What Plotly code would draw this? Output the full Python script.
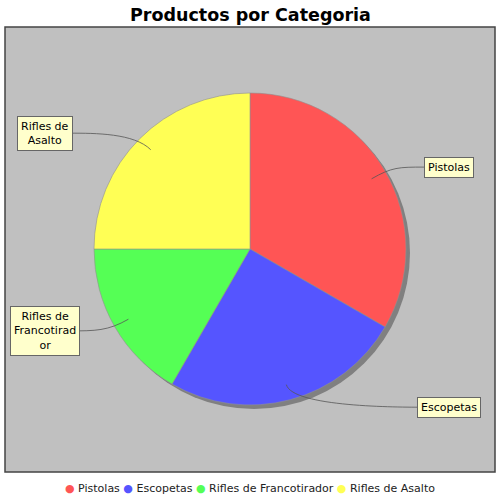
import math
import plotly.graph_objects as go

# ---- data ----
categories = ["Pistolas", "Escopetas", "Rifles de Francotirador", "Rifles de Asalto"]
values = [4, 3, 2, 3]
label_text = ["Pistolas", "Escopetas", "Rifles de<br>Francotirad<br>or", "Rifles de<br>Asalto"]
colors = ["#FF5555", "#5555FF", "#55FF55", "#FFFF55"]
title_text = "Productos por Categoria"

W = H = 500
def X(px): return px / W
def Y(py): return 1 - py / H

# pie geometry (pixels)
cx, cy, R = 250, 249, 156
shadow_off = 4

fig = go.Figure()
# shadow
fig.add_trace(go.Pie(
    values=[1], marker=dict(colors=["#808080"], line=dict(width=0)),
    domain=dict(x=[X(cx - R + shadow_off), X(cx + R + shadow_off)],
                y=[Y(cy + R + shadow_off), Y(cy - R + shadow_off)]),
    textinfo="none", hoverinfo="skip", showlegend=False, sort=False))
# main pie
fig.add_trace(go.Pie(
    labels=categories, values=values, sort=False, direction="clockwise", rotation=0,
    marker=dict(colors=colors, line=dict(color="#909090", width=0.6)),
    domain=dict(x=[X(cx - R), X(cx + R)], y=[Y(cy + R), Y(cy - R)]),
    textinfo="none", hoverinfo="label+value", showlegend=False))

shapes = [dict(type="rect", xref="paper", yref="paper",
               x0=X(5), x1=X(495), y0=Y(472), y1=Y(27),
               fillcolor="#C0C0C0", line=dict(color="#444444", width=1.5), layer="below")]
annotations = []

total = sum(values)
cum = 0
for cat, v, txt in zip(categories, values, label_text):
    mid_cw = (cum + v / 2) / total * 360  # clockwise from 12 o'clock
    cum += v
    ang = math.radians(90 - mid_cw)
    dx, dy = math.cos(ang), -math.sin(ang)
    ax, ay = cx + 0.9 * R * dx, cy + 0.9 * R * dy
    c1x, c1y = cx + 1.05 * R * dx, cy + 1.05 * R * dy
    side = 1 if dx >= 0 else -1
    ly = cy + 1.05 * R * dy
    lx = 449 if side > 0 else 45
    edge = lx - side * 25
    c2x = edge - side * 25
    path = (f"M {X(ax)},{Y(ay)} C {X(c1x)},{Y(c1y)} {X(c2x)},{Y(ly)} "
            f"{X(edge)},{Y(ly)} L {X(lx)},{Y(ly)}")
    shapes.append(dict(type="path", xref="paper", yref="paper", path=path,
                       line=dict(color="#555555", width=0.8), layer="above"))
    annotations.append(dict(x=X(lx), y=Y(ly), xref="paper", yref="paper", text=txt,
                            showarrow=False, xanchor="center", yanchor="middle",
                            borderpad=3, borderwidth=1, align="center",
                            font=dict(family="DejaVu Sans", size=11, color="#000000"),
                            bgcolor="#FFFFCC", bordercolor="#666666"))

# title
annotations.append(dict(x=0.5, y=Y(15), xref="paper", yref="paper", text=f"<b>{title_text}</b>",
                        showarrow=False, xanchor="center", yanchor="middle",
                        font=dict(family="DejaVu Sans", size=17.5, color="#000000")))
# legend
legend_html = " ".join(f"<span style='color:{c}'>●</span> {n}" for n, c in zip(categories, colors))
annotations.append(dict(x=0.5, y=Y(488), xref="paper", yref="paper", text=legend_html,
                        showarrow=False, xanchor="center", yanchor="middle",
                        font=dict(family="DejaVu Sans", size=11, color="#222222")))

fig.update_layout(width=W, height=H, margin=dict(l=0, r=0, t=0, b=0),
                  paper_bgcolor="white", plot_bgcolor="white",
                  shapes=shapes, annotations=annotations, showlegend=False)
fig.write_html("out.html")
